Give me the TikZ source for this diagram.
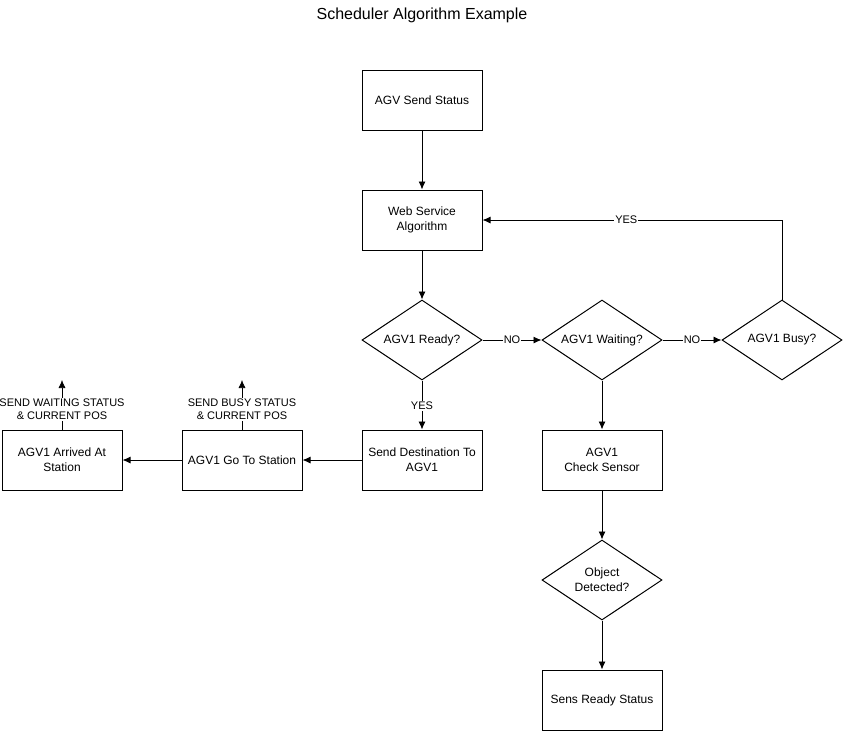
\documentclass[tikz,border=0pt]{standalone}
\usepackage{fontspec}
\setmainfont{Liberation Sans}
\usetikzlibrary{shapes.geometric, arrows.meta}
\tikzset{
  box/.style={draw, line width=1pt, minimum width=120pt, minimum height=60pt, align=center, inner sep=2pt, font=\fontsize{12}{15}\selectfont},
  decision/.style={draw, line width=1pt, diamond, aspect=1.5, minimum width=120pt, minimum height=80pt, inner sep=0pt, align=center, font=\fontsize{12}{15}\selectfont},
  flow/.style={-{Latex[length=8pt, width=7pt]}, line width=.9pt},
  tag/.style={fill=white, inner sep=1pt, font=\fontsize{11}{13}\selectfont, align=center}
}
\begin{document}
\begin{tikzpicture}[x=1pt, y=-1pt]
\useasboundingbox (0,0) rectangle (843,731);
\node (title) at (422,15) {\fontsize{16}{19}\selectfont Scheduler Algorithm Example};

\node [box] (status) at (422,100) {AGV Send Status};
\node [box] (web) at (422,220) {Web Service\\Algorithm};
\node [decision] (ready) at (422,340) {AGV1 Ready?};
\node [decision] (waiting) at (602,340) {AGV1 Waiting?};
\node [decision] (busy) at (782,340) {AGV1 Busy?};
\node [box] (dest) at (422,460) {Send Destination To\\AGV1};
\node [box] (go) at (242,460) {AGV1 Go To Station};
\node [box] (arrived) at (62,460) {AGV1 Arrived At\\Station};
\node [box] (sensor) at (602,460) {AGV1\\Check Sensor};
\node [decision] (object) at (602,580) {Object\\Detected?};
\node [box] (sens) at (602,700) {Sens Ready Status};

\coordinate (goup) at (242,380);
\coordinate (arrup) at (62,380);

\draw [flow] (status) -- (web);
\draw [flow] (web) -- (ready);
\draw [flow] (ready) -- (waiting) node [pos=.5, tag]{NO};
\draw [flow] (waiting) -- (busy) node [pos=.5, tag]{NO};
\draw [flow] (busy.north) |- (web.east) node [pos=.76, tag]{YES};
\draw [flow] (ready) -- (dest) node [pos=.52, tag]{YES};
\draw [flow] (waiting) -- (sensor);
\draw [flow] (dest) -- (go);
\draw [flow] (go) -- (arrived);
\draw [flow] (sensor) -- (object);
\draw [flow] (object) -- (sens);

\draw [flow, line width=.6pt] (go.north) -- (goup) node [pos=.4, tag]{SEND BUSY STATUS\\\& CURRENT POS};
\draw [flow, line width=.6pt] (arrived.north) -- (arrup) node [pos=.4, tag]{SEND WAITING STATUS\\\& CURRENT POS};
\end{tikzpicture}
\end{document}
